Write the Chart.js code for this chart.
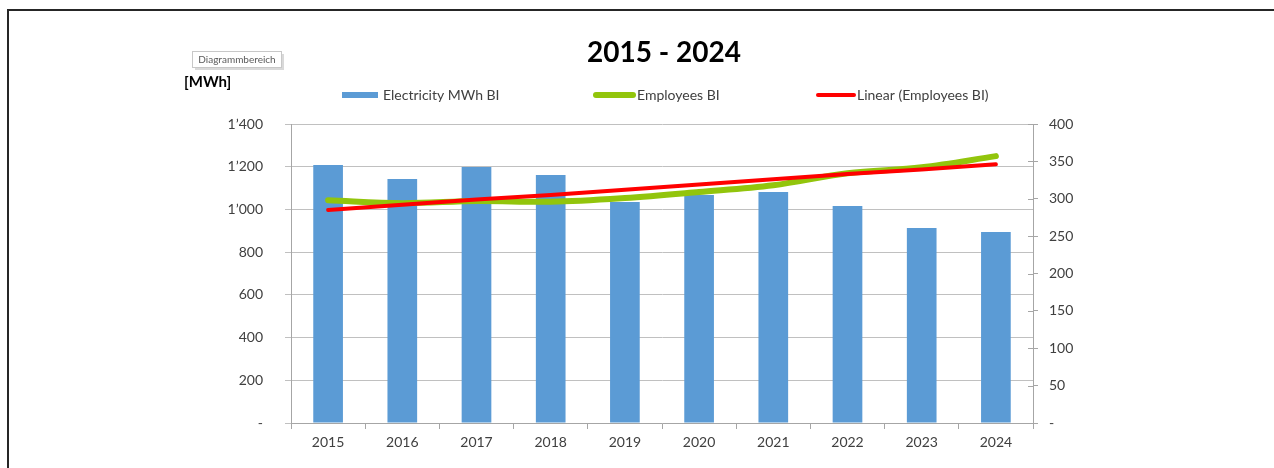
<!DOCTYPE html>
<html>
<head>
<meta charset="utf-8">
<title>Electricity MWh BI 2015 - 2024</title>
<script src="https://cdn.jsdelivr.net/npm/chart.js@4/dist/chart.umd.min.js"></script>
<style>
    html, body { margin: 0; padding: 0; background: #fff; }
    #wrap { width: 1274px; height: 468px; }
</style>
</head>
<body>
<div id="wrap"><canvas id="energyChart" width="1274" height="468"></canvas></div>
<script>
// --- Data ---
const years = ['2015', '2016', '2017', '2018', '2019', '2020', '2021', '2022', '2023', '2024'];
const electricityMWh = [1208, 1142, 1199, 1161, 1035, 1067, 1082, 1016, 913, 894];
const employees = [298, 294, 297, 296, 301, 309, 318, 334, 342, 357];
const employeesTrend = [285, 292, 299, 305, 312, 319, 326, 333, 339, 346];

const leftTicks = { min: 0, max: 1400, step: 200 };
const rightTicks = { min: 0, max: 400, step: 50 };

const FONT = 'Lato, "Noto Sans", sans-serif';
const TEXT = '#404040';
const AXIS = '#a6a6a6';

// 1'400 style labels, zero shown as a dash
function fmt(v) {
    if (v === 0) return '-';
    return String(v).replace(/\B(?=(\d{3})+(?!\d))/g, '\u2019');
}

// --- Decorations: frame, title, unit, legend, little tooltip box ---
const decorations = {
    id: 'decorations',
    afterDraw(chart) {
        const ctx = chart.ctx;
        ctx.save();

        // outer frame (only top and left edges visible)
        ctx.fillStyle = '#262626';
        ctx.fillRect(7, 9, 1267, 2);
        ctx.fillRect(7, 9, 2, 459);

        // cross ticks on right axis (inner half)
        const y1 = chart.scales.y1;
        ctx.strokeStyle = AXIS;
        ctx.lineWidth = 1;
        y1.ticks.forEach(t => {
            const py = Math.round(y1.getPixelForValue(t.value)) + 0.5;
            ctx.beginPath();
            ctx.moveTo(y1.left - 5, py);
            ctx.lineTo(y1.left, py);
            ctx.stroke();
        });

        // title
        ctx.fillStyle = '#000';
        ctx.font = 'bold 28px ' + FONT;
        ctx.textAlign = 'center';
        ctx.textBaseline = 'middle';
        ctx.fillText('2015 - 2024', 664, 53);

        // unit label
        ctx.font = 'bold 15px ' + FONT;
        ctx.textAlign = 'left';
        ctx.fillText('[MWh]', 184, 82);

        // Excel-like hover box
        ctx.fillStyle = '#d9d9d9';
        ctx.fillRect(195, 54, 89, 16);
        ctx.fillStyle = '#fff';
        ctx.strokeStyle = '#c8c8c8';
        ctx.fillRect(192.5, 51.5, 89, 16);
        ctx.strokeRect(192.5, 51.5, 89, 16);
        ctx.fillStyle = '#5a5a5a';
        ctx.font = '10px ' + FONT;
        ctx.textAlign = 'center';
        ctx.fillText('Diagrammbereich', 237, 60);

        // legend
        const ds = chart.data.datasets;
        const ly = 95;
        ctx.font = '14px ' + FONT;
        ctx.textAlign = 'left';
        ctx.fillStyle = ds[0].backgroundColor;
        ctx.fillRect(342, ly - 3, 36, 6);
        ctx.fillStyle = TEXT;
        ctx.fillText(ds[0].label, 383, ly);

        ctx.lineCap = 'round';
        ctx.strokeStyle = ds[1].borderColor;
        ctx.lineWidth = 6;
        ctx.beginPath();
        ctx.moveTo(596, ly);
        ctx.lineTo(633, ly);
        ctx.stroke();
        ctx.fillText(ds[1].label, 637, ly);

        ctx.strokeStyle = ds[2].borderColor;
        ctx.lineWidth = 4;
        ctx.beginPath();
        ctx.moveTo(818, ly);
        ctx.lineTo(854, ly);
        ctx.stroke();
        ctx.fillText(ds[2].label, 857, ly);

        ctx.restore();
    }
};

// --- Chart ---
const ctx = document.getElementById('energyChart').getContext('2d');
const energyChart = new Chart(ctx, {
    type: 'bar',
    data: {
        labels: years,
        datasets: [
            {
                label: 'Electricity MWh BI',
                data: electricityMWh,
                backgroundColor: '#5b9bd5',
                yAxisID: 'y',
                barPercentage: 0.8,
                categoryPercentage: 0.5,
                order: 3
            },
            {
                type: 'line',
                label: 'Employees BI',
                data: employees,
                borderColor: '#92c50c',
                backgroundColor: '#92c50c',
                borderWidth: 6,
                borderCapStyle: 'round',
                pointRadius: 0,
                tension: 0.35,
                yAxisID: 'y1',
                order: 2
            },
            {
                type: 'line',
                label: 'Linear (Employees BI)',
                data: employeesTrend,
                borderColor: '#ff0000',
                backgroundColor: '#ff0000',
                borderWidth: 4,
                borderCapStyle: 'round',
                pointRadius: 0,
                tension: 0,
                yAxisID: 'y1',
                order: 1
            }
        ]
    },
    options: {
        responsive: false,
        animation: false,
        devicePixelRatio: 1,
        layout: { padding: { top: 124, left: 0, right: 0, bottom: 0 } },
        plugins: {
            legend: { display: false },
            title: { display: false },
            tooltip: { enabled: false }
        },
        scales: {
            x: {
                offset: true,
                grid: {
                    offset: true,
                    drawOnChartArea: false,
                    tickLength: 6,
                    color: AXIS
                },
                border: { color: AXIS },
                ticks: {
                    color: TEXT,
                    font: { family: FONT, size: 14 },
                    padding: 5,
                    maxRotation: 0
                },
                afterFit: (scale) => { scale.height = 45; }
            },
            y: {
                position: 'left',
                min: leftTicks.min,
                max: leftTicks.max,
                ticks: {
                    stepSize: leftTicks.step,
                    color: TEXT,
                    font: { family: FONT, size: 14 },
                    padding: 22,
                    callback: (v) => fmt(v)
                },
                grid: { color: '#c0c0c0', tickLength: 6 },
                border: { color: AXIS },
                afterFit: (scale) => { scale.width = 291; }
            },
            y1: {
                position: 'right',
                min: rightTicks.min,
                max: rightTicks.max,
                ticks: {
                    stepSize: rightTicks.step,
                    color: TEXT,
                    font: { family: FONT, size: 14 },
                    padding: 11,
                    callback: (v) => fmt(v)
                },
                grid: { drawOnChartArea: false, tickLength: 5, color: AXIS },
                border: { color: AXIS },
                afterFit: (scale) => { scale.width = 241; }
            }
        }
    },
    plugins: [decorations]
});
</script>
</body>
</html>
